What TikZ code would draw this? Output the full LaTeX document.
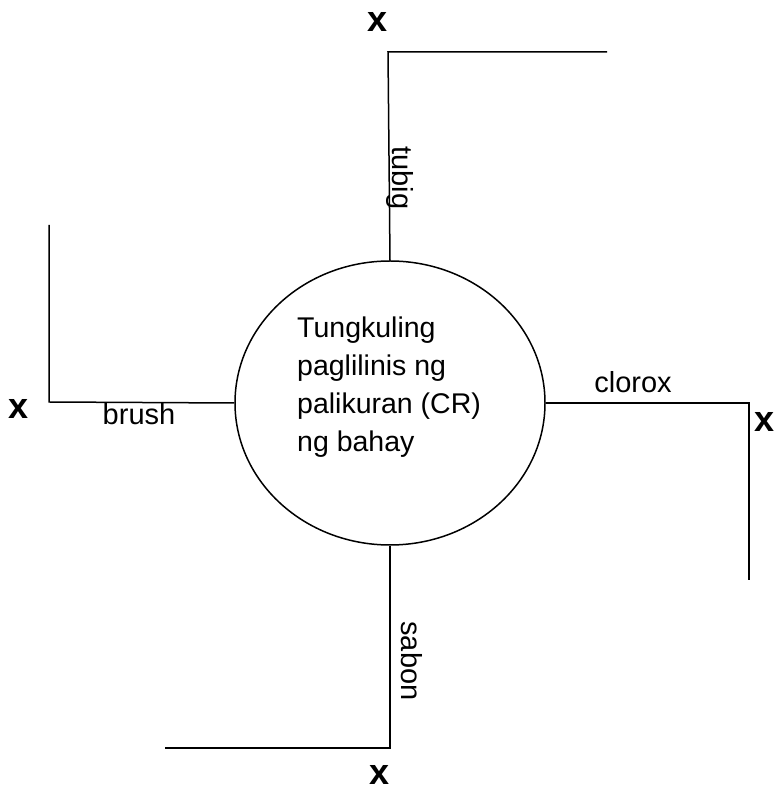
\documentclass[tikz,border=0pt]{standalone}
\usepackage{fontspec}
\setmainfont{Liberation Sans}
\usetikzlibrary{shapes.geometric}
\tikzset{
  branch/.style={line width=1.5pt, draw=black, line join=miter},
  topic/.style={draw=black, line width=1.5pt, ellipse, minimum width=310pt, minimum height=284pt, inner sep=0pt},
  topictext/.style={font=\fontsize{28.5}{38}\selectfont, align=left, inner sep=0pt},
  itemlabel/.style={font=\fontsize{29}{34}\selectfont, inner sep=0pt},
  endx/.style={font=\fontsize{36}{38}\selectfont\bfseries, inner sep=0pt}
}

\begin{document}
\begin{tikzpicture}[x=1pt, y=1pt]
  \useasboundingbox (0,0) rectangle (776,790);
  % center
  \node[topic] (task) at (390,387) {};
  \node[topictext, anchor=north west] (tasktext) at (297,473) {Tungkuling\\paglilinis ng\\palikuran (CR)\\ng bahay};

  % corners and free ends
  \coordinate (tubigcorner) at (388,738);
  \coordinate (tubigend) at (607,738);
  \coordinate (brushcorner) at (49,388);
  \coordinate (brushend) at (49,565);
  \coordinate (cloroxcorner) at (749,387);
  \coordinate (cloroxend) at (749,210);
  \coordinate (saboncorner) at (390,42);
  \coordinate (sabonend) at (165,42);

  \draw[branch] (task.north) -- (tubigcorner) -- (tubigend);
  \draw[branch] (task.west) -- (brushcorner) -- (brushend);
  \draw[branch] (task.east) -- (cloroxcorner) -- (cloroxend);
  \draw[branch] (task.south) -- (saboncorner) -- (sabonend);

  % labels
  \node[itemlabel, rotate=-90, anchor=base] (tubig) at (392,612) {tubig};
  \node[itemlabel, anchor=base] (brush) at (139,365) {brush};
  \node[itemlabel, anchor=base] (clorox) at (633,397) {clorox};
  \node[itemlabel, rotate=-90, anchor=base] (sabon) at (401,129) {sabon};

  % ends
  \node[endx] (xtop) at (378,768) {x};
  \node[endx] (xleft) at (19,381) {x};
  \node[endx] (xright) at (765,368) {x};
  \node[endx] (xbottom) at (380,15) {x};
\end{tikzpicture}
\end{document}
